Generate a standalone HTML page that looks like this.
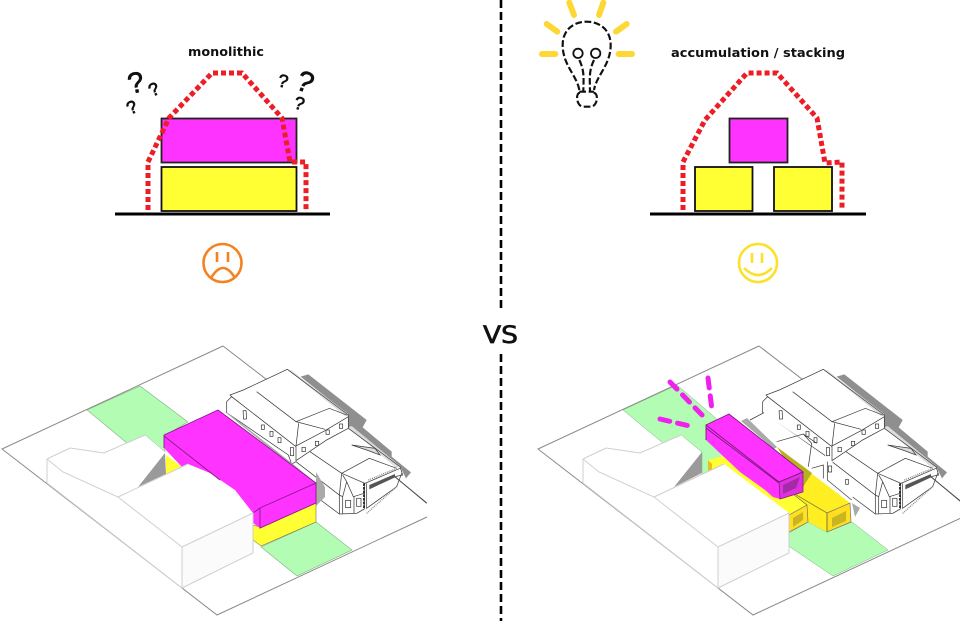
<!DOCTYPE html>
<html><head><meta charset="utf-8">
<style>
html,body{margin:0;padding:0;background:#fff;width:960px;height:621px;overflow:hidden}
svg{display:block}
text{font-family:"DejaVu Sans","Liberation Sans",sans-serif}
</style></head><body>
<svg width="960" height="621" viewBox="0 0 960 621" xmlns="http://www.w3.org/2000/svg">
<defs>
<g id="site" fill="none" stroke="#8a8a8a" stroke-width="1">
<path d="M223,346 L2,449 L217,615 L427,517"/>
<path d="M223,346 L275,386 M395,477 L427,503"/>
</g>
<g id="bldg">
<path d="M47,459 L70,448 L104,453 L145,435 L165,452 L138,487 L188,464 L253,513 L253,553 L182,588 L47,483Z" fill="#fff"/>
<path d="M182,547 L253,513 L253,553 L182,588Z" fill="#fbfbfb"/>
<g fill="none" stroke="#cfcfcf" stroke-width="1">
<path d="M47,459 L70,448 L104,453 L145,435"/>
<path d="M47,459 L63,472 L118,497 L182,547 L182,588 M47,459 L47,483 L182,588 L253,553 L253,513 L182,547"/>
<path d="M118,497 L188,464"/>
</g>
</g>
<g id="house" transform="translate(210,340) scale(.33333)">
<path d="M272,110 L295,103 L470,240 L458,262 L545,335 L545,350 L603,397 L588,415 L570,380 L415,262 L415,225Z" fill="#8f8f8f"/>
<path d="M65,170 L60,165 L100,150 L232,88 L415,225 L415,265 L570,380 L578,405 L555,410 L465,480 L463,507 L440,520 L388,522 L258,424 L258,365 L245,372 L235,345 L60,225 L50,218 L50,185Z" fill="#fff"/>
<path d="M232,88 L245,92 L415,222 L405,228Z M415,262 L425,258 L570,378 L560,385Z" fill="#dcdcdc"/>
<path d="M425,315 L495,325 L510,345 L470,330Z" fill="#dcdcdc"/>
<g fill="none" stroke="#3c3c3c" stroke-width="2.200">
<path d="M65,170 L60,165 L100,150 L232,88 L415,225 L415,265 L350,300 L258,362 L258,320"/>
<path d="M415,265 L570,380 L578,405 L555,410"/>
<path d="M50,185 L65,170 L258,320 M50,185 L50,218 L235,345 L245,372 L258,365"/>
<path d="M140,155 L258,245 L358,205 L412,226 M258,245 L345,268 M266,250 L258,318 L345,272 L415,230"/>
<path d="M300,335 L395,400 L478,355 L560,385 M395,400 L465,430 L570,385"/>
<path d="M258,365 L388,465 L395,400 M388,465 L388,522 L440,520 L463,507 L463,430 M388,522 L320,471"/>
<path d="M425,315 L495,325 L510,345 L470,330 L425,315 M398,470 L410,425 L430,470 L463,460 M388,465 L398,470 L398,522 M432,470 L432,520 M410,425 L398,405"/>
<path d="M470,430 L470,505 L560,440 L575,400 M555,410 L650,490"/>
<rect x="100" y="212" width="9" height="25" transform="rotate(-3 105 225)"/>
<rect x="154" y="255" width="9" height="13"/><rect x="180" y="274" width="9" height="15"/><rect x="204" y="293" width="9" height="15"/>
<rect x="241" y="323" width="10" height="24"/><rect x="276" y="322" width="10" height="13"/><rect x="316" y="304" width="10" height="13"/><rect x="348" y="270" width="10" height="13"/><rect x="388" y="252" width="10" height="13"/>
<rect x="407" y="481" width="15" height="22"/><rect x="440" y="475" width="13" height="24"/>
</g>
<path d="M478,435 L555,402 L555,412 L478,448Z" fill="#555"/>
<path d="M470,520 L560,440 M475,420 L560,385" stroke="#888" stroke-width="4" stroke-dasharray="3 3" fill="none"/>
<path d="M462,430 L462,505" stroke="#111" stroke-width="5" stroke-dasharray="8 3"/>
</g>
</defs>

<!-- centre dashed line -->
<g stroke="#000" stroke-width="2.6" stroke-dasharray="8 4">
<line x1="501" y1="0" x2="501" y2="312"/>
<line x1="501" y1="354" x2="501" y2="621"/>
</g>
<text x="483" y="343" font-size="24" textLength="35" lengthAdjust="spacingAndGlyphs" fill="#111" stroke="#111" stroke-width=".7">VS</text>

<!-- top left -->
<text x="188" y="56" font-size="12" font-weight="bold" textLength="76" lengthAdjust="spacingAndGlyphs" fill="#111">monolithic</text>
<rect x="161.500" y="118.500" width="135" height="44" fill="#ff33ff" stroke="#222" stroke-width="1.800"/>
<rect x="161.500" y="167" width="135" height="44" fill="#ffff33" stroke="#111" stroke-width="1.800"/>
<rect x="115" y="212.500" width="215" height="3" fill="#000"/>
<path d="M148,210 L148,162 L169,118 L212,73 L242,73 L282,118 L290,162 L306,162 L306,210" fill="none" stroke="#ee1c25" stroke-width="5" stroke-dasharray="5 3"/>
<g fill="#111" stroke="#111" stroke-width=".7">
<text font-size="29" transform="translate(130,94) rotate(-12)" style="font-family:'Liberation Sans'">?</text>
<text font-size="18" transform="translate(130,115) rotate(-25)" style="font-family:'Liberation Sans'">?</text>
<text font-size="18" transform="translate(152,97) rotate(-25)" style="font-family:'Liberation Sans'">?</text>
<text font-size="18" transform="translate(277,86) rotate(12)" style="font-family:'Liberation Sans'">?</text>
<text font-size="29" transform="translate(294,88) rotate(22)" style="font-family:'Liberation Sans'">?</text>
<text font-size="18" transform="translate(293,108) rotate(15)" style="font-family:'Liberation Sans'">?</text>
</g>
<g fill="none" stroke="#f58220" stroke-width="2.600">
<circle cx="222.500" cy="263" r="19"/>
<path d="M217,252 L217,262 M228,252 L228,262 M211,278 Q223,258 235,278"/>
</g>

<!-- top right -->
<text x="671" y="57" font-size="12" font-weight="bold" textLength="174" lengthAdjust="spacingAndGlyphs" fill="#111">accumulation / stacking</text>
<rect x="729.500" y="118.500" width="58" height="44" fill="#ff33ff" stroke="#222" stroke-width="1.800"/>
<rect x="695" y="167" width="57.500" height="44" fill="#ffff33" stroke="#111" stroke-width="1.800"/>
<rect x="774" y="167" width="58" height="44" fill="#ffff33" stroke="#111" stroke-width="1.800"/>
<rect x="650" y="212.500" width="216" height="3" fill="#000"/>
<path d="M683,210 L683,162 L705,120 L747,73 L777,73 L817,118 L825,163 L842,162 L842,210" fill="none" stroke="#ee1c25" stroke-width="5" stroke-dasharray="5 3"/>
<g fill="none" stroke="#fde02a" stroke-width="2.600">
<circle cx="758" cy="263" r="19"/>
<path d="M752,253 L752,263 M762,253 L762,263 M744,268 Q758,282 772,268"/>
</g>

<!-- bulb -->
<g transform="translate(520,0) scale(.33333)">
<g stroke="#fdd835" stroke-width="18" stroke-linecap="round" fill="none">
<path d="M148,8 L162,45 M250,8 L237,45 M80,72 L112,95 M320,72 L288,95 M66,162 L106,162 M296,162 L336,162"/>
</g>
<g fill="none" stroke="#111" stroke-width="6.500" stroke-dasharray="20 8">
<path d="M178,270 C170,225 128,195 128,135 C128,90 160,65 200,65 C240,65 272,90 272,135 C272,195 230,225 222,270"/>
<path d="M178,180 C195,215 190,240 190,275 M222,180 C205,215 210,240 210,275 M178,275 L222,275"/>
<path d="M180,278 C165,280 170,320 190,320 L212,320 C232,320 238,280 220,278"/>
</g>
<g fill="none" stroke="#111" stroke-width="5.500">
<circle cx="174" cy="160" r="14"/><circle cx="227" cy="160" r="14"/>
</g>
</g>

<!-- bottom left -->
<use href="#site"/>
<path d="M87,410 L140,386 L188,422 L164,436 L165,452 L145,435 L127,443Z" fill="#b3fcb3" stroke="#7fb37f" stroke-width=".6"/>
<path d="M261,547 L316,522 L352,550 L297,576Z" fill="#b3fcb3" stroke="#7fb37f" stroke-width=".6"/>
<use href="#house"/>
<path d="M316,472 L325,487 L325,497 L316,506Z" fill="#aaa"/>
<path d="M225,412 L228,413 L293,464 L316,483 L313,483Z" fill="#aaa"/>
<path d="M165,453 L166,474 L138,487Z" fill="#9a9a9a"/>
<path d="M166,455 L166,474 L182,467Z" fill="#ffff33"/>
<path d="M253,525 L260,527 L316,503 L316,522 L261,546 L253,540Z" fill="#ffff33" stroke="#555" stroke-width=".5"/>
<path d="M164,435 L218,410 L316,483 L316,503 L260,528 L253,523 L253,513 L235,490 L210,473 L188,464 L182,467 L164,448Z" fill="#ff33ff"/>
<path d="M164,435 L218,410 L316,483 L260,508 L253,513 M164,436 L220,480 M260,508 L260,528 L316,503 L316,483 M164,435 L164,448" fill="none" stroke="#8a1a8a" stroke-width=".9"/>
<use href="#bldg"/>

<!-- bottom right -->
<g transform="translate(536,0)"><use href="#site"/></g>
<path d="M623,410 L677,385 L718,420 L742,440 L789,533 L808,522 L827,532 L852,522 L888,550 L833,576 L790,547 L702,473 L702,452 L681,435 L663,443Z" fill="#b3fcb3" stroke="#7fb37f" stroke-width=".5"/>
<g transform="translate(536,0)"><use href="#house"/></g>
<!-- extra house part seen on the right -->
<g transform="translate(740,340) scale(.33333)">
<path d="M30,240 L72,218 L278,365 L276,424 L345,490 L330,490 L105,318Z" fill="#fff"/>
<g fill="none" stroke="#3c3c3c" stroke-width="2.200">
<path d="M30,240 L72,218 M110,305 L190,282 L230,310 M190,282 L215,310 L205,380 M215,385 L250,375 L250,415 M262,365 L262,420 L335,480"/>
<rect x="265" y="378" width="10" height="18"/><rect x="317" y="418" width="8" height="15"/>
</g>
</g>
<path d="M702,452 L702,473 L674,487Z" fill="#9a9a9a"/>
<path d="M741,421 L747,418 L777,447 L774,449Z" fill="#aaa"/>
<path d="M852,503 L860,508 L855,517Z" fill="#aaa"/>
<!-- yellow masses -->
<path d="M708,460 L723,456 L793,494 L807,505 L808,522 L789,532 L789,515 L708,472Z" fill="#ffff33"/>
<path d="M708,460 L708,472 L712,470 L712,464Z" fill="#e8c020"/>
<path d="M777,447 L850,503 L851,522 L827,532 L808,522 L807,505 L793,493 L803,487Z" fill="#ffee22"/>
<path d="M777,447 L812,473 L803,487Z" fill="#b9b020"/>
<path d="M827,513 L850,503 L851,522 L827,532Z" fill="#ffdf20" stroke="#777" stroke-width=".7"/>
<path d="M832,518 L846,511 L846,521 L832,527Z" fill="#c9b422"/>
<path d="M789,515 L807,505 L808,522 L789,532Z" fill="#ffdf20" stroke="#777" stroke-width=".7"/>
<path d="M793,518 L803,512 L803,520 L793,527Z" fill="#c9b422"/>
<path d="M793,493 L827,513 L827,532 M793,494 L807,505" fill="none" stroke="#6d6d20" stroke-width=".7"/>
<!-- magenta -->
<path d="M706,425 L729,414 L803,472 L803,492 L780,499 L773,497 L765,490 L740,472 L706,440Z" fill="#ff33ff"/>
<path d="M779,482 L803,472 L803,492 L780,499Z" fill="#e030e0" stroke="#7a1a7a" stroke-width=".7"/>
<path d="M783,485 L800,477 L796,488 L783,494Z" fill="#a52aa8"/>
<path d="M706,425 L729,414 L803,472 L779,482Z M706,425 L706,440 M706,428 L779,483" fill="none" stroke="#7a1a7a" stroke-width=".9"/>
<g transform="translate(536,0)"><use href="#bldg"/></g>
<!-- magenta rays -->
<g stroke="#f020f0" stroke-width="5" stroke-linecap="round" stroke-dasharray="10 8" fill="none">
<path d="M670,382 L703,416 M708,378 L712,410 M660,419 L694,427"/>
</g>
</svg>
</body></html>
